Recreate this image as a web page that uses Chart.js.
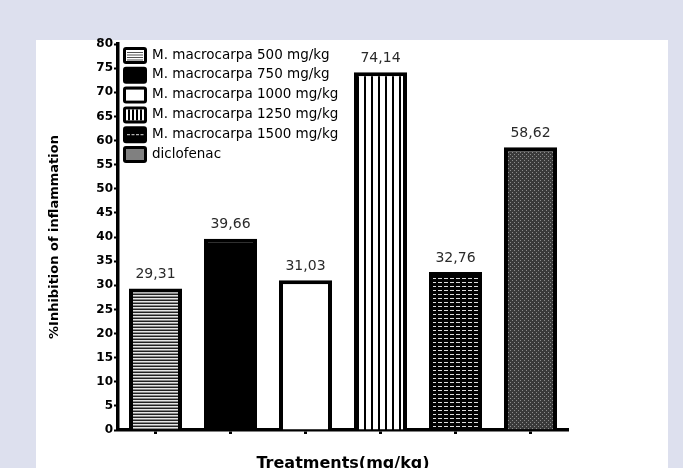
<!DOCTYPE html>
<html>
<head>
<meta charset="utf-8">
<script src="https://cdn.jsdelivr.net/npm/chart.js@4/dist/chart.umd.min.js"></script>
<style>
  html, body { margin: 0; padding: 0; background: #dde0ee; width: 683px; height: 468px; overflow: hidden; }
  .panel { position: absolute; left: 36px; top: 40px; width: 632px; height: 440px; background: #fff; }
  .wrap { position: absolute; left: 0; top: 0; width: 683px; height: 468px; }
</style>
</head>
<body>
<div class="panel"></div>
<div class="wrap"><canvas id="chart"></canvas></div>
<script>
const treatments = [
  'M. macrocarpa 500 mg/kg',
  'M. macrocarpa 750 mg/kg',
  'M. macrocarpa 1000 mg/kg',
  'M. macrocarpa 1250 mg/kg',
  'M. macrocarpa 1500 mg/kg',
  'diclofenac'
];
const inhibition = [29.31, 39.66, 31.03, 74.14, 32.76, 58.62];
const yTicks = { min: 0, max: 80, step: 5 };

const FONT = '"DejaVu Sans", Verdana, sans-serif';

// small canvas patterns for the bar fills
function makePattern(w, h, draw) {
    const c = document.createElement('canvas');
    c.width = w; c.height = h;
    const g = c.getContext('2d');
    draw(g);
    return document.getElementById('chart').getContext('2d').createPattern(c, 'repeat');
}

const fills = [
    makePattern(4, 3, g => {
        g.fillStyle = '#e6e6e6'; g.fillRect(0, 0, 4, 3);
        g.fillStyle = '#222'; g.fillRect(0, 0, 4, 1);
        g.fillStyle = '#888'; g.fillRect(0, 2, 4, 1);
    }),
    '#000',
    '#fff',
    makePattern(7, 4, g => {
        g.fillStyle = '#fff'; g.fillRect(0, 0, 7, 4);
        g.fillStyle = '#000'; g.fillRect(0, 0, 2, 4);
    }),
    makePattern(6, 4, g => {
        g.fillStyle = '#000'; g.fillRect(0, 0, 6, 4);
        g.fillStyle = '#ddd'; g.fillRect(0, 2, 4, 1);
    }),
    makePattern(4, 4, g => {
        g.fillStyle = '#3a3a3a'; g.fillRect(0, 0, 4, 4);
        g.fillStyle = '#8c8c8c';
        g.fillRect(0, 0, 1, 1); g.fillRect(2, 2, 1, 1);
    })
];

const legendFills = ['#fff', '#000', '#fff', '#fff', '#000', '#808080'];

const valueLabels = {
    id: 'valueLabels',
    afterDatasetsDraw(chart) {
        const ctx = chart.ctx;
        const meta = chart.getDatasetMeta(0);
        ctx.save();
        ctx.font = '14px ' + FONT;
        ctx.fillStyle = '#2a2a2a';
        ctx.textAlign = 'center';
        ctx.textBaseline = 'bottom';
        meta.data.forEach((bar, i) => {
            const txt = inhibition[i].toFixed(2).replace('.', ',');
            ctx.fillText(txt, bar.x, bar.y - 7);
        });
        ctx.restore();
    }
};

// legend sits inside the plot, top left
const innerLegend = {
    id: 'innerLegend',
    afterDraw(chart) {
        const ctx = chart.ctx;
        const x0 = chart.chartArea.left + 5;
        const y0 = chart.chartArea.top + 3;
        ctx.save();
        ctx.font = '13.5px ' + FONT;
        ctx.textBaseline = 'middle';
        treatments.forEach((name, i) => {
            const y = y0 + i * 19.8;
            ctx.fillStyle = '#000';
            ctx.beginPath();
            ctx.roundRect(x0, y, 24, 17, 3);
            ctx.fill();
            ctx.fillStyle = legendFills[i];
            ctx.fillRect(x0 + 3, y + 3, 18, 11);
            if (i === 0) {
                ctx.fillStyle = '#555';
                for (let k = 0; k < 4; k++) ctx.fillRect(x0 + 4, y + 5 + k * 2.5, 16, 1);
            }
            if (i === 3) {
                ctx.fillStyle = '#000';
                for (let k = 0; k < 4; k++) ctx.fillRect(x0 + 5 + k * 4, y + 3, 2, 11);
            }
            if (i === 4) {
                ctx.fillStyle = '#ddd';
                for (let k = 0; k < 4; k++) ctx.fillRect(x0 + 4 + k * 4.5, y + 8, 3, 1);
            }
            ctx.fillStyle = '#000';
            ctx.fillText(name, x0 + 29, y + 8);
        });
        ctx.restore();
    }
};

new Chart(document.getElementById('chart'), {
    type: 'bar',
    data: {
        labels: treatments,
        datasets: [{
            data: inhibition,
            backgroundColor: fills,
            borderColor: '#000',
            borderWidth: 4,
            borderSkipped: 'bottom',
            barPercentage: 0.7067,
            categoryPercentage: 1.0
        }]
    },
    options: {
        responsive: true,
        maintainAspectRatio: false,
        animation: false,
        layout: { padding: { top: 44, right: 115, left: 0, bottom: 0 } },
        plugins: {
            legend: { display: false },
            tooltip: { enabled: false }
        },
        scales: {
            x: {
                offset: true,
                afterFit: s => { s.height = 38; },
                grid: { drawOnChartArea: false, offset: false, tickLength: 4, tickWidth: 3, color: '#000' },
                border: { color: '#000', width: 3.5 },
                ticks: { display: false },
                title: {
                    display: true,
                    text: 'Treatments(mg/kg)',
                    color: '#000',
                    font: { family: FONT, size: 16, weight: 'bold', lineHeight: 1 },
                    padding: { top: 0, bottom: -4 }
                }
            },
            y: {
                min: yTicks.min,
                max: yTicks.max,
                afterFit: s => { s.width = 118; },
                grid: { drawOnChartArea: false, tickLength: 4, tickWidth: 2, color: '#000' },
                border: { color: '#000', width: 3.5 },
                ticks: {
                    stepSize: yTicks.step,
                    color: '#000',
                    padding: 1,
                    font: { family: FONT, size: 12, weight: 'bold' }
                },
                title: {
                    display: true,
                    text: '%Inhibition of inflammation',
                    color: '#000',
                    font: { family: FONT, size: 13, weight: 'bold', lineHeight: 1 },
                    padding: { top: 48, bottom: 0 }
                }
            }
        }
    },
    plugins: [valueLabels, innerLegend]
});
</script>
</body>
</html>
